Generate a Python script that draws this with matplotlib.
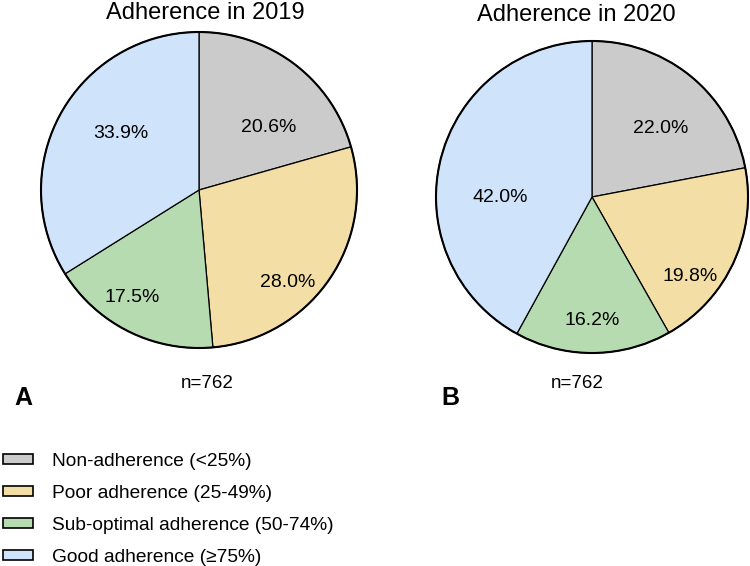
import numpy as np
import matplotlib
matplotlib.use("Agg")
import matplotlib.pyplot as plt
from matplotlib.patches import Patch

plt.rcParams['font.family'] = ['Liberation Sans', 'DejaVu Sans']

# data
categories = ["Non-adherence (<25%)", "Poor adherence (25-49%)",
              "Sub-optimal adherence (50-74%)", "Good adherence (\u226575%)"]
share_2019 = [20.6, 28.0, 17.5, 33.9]
share_2020 = [22.0, 19.8, 16.2, 42.0]
n_2019 = 762
n_2020 = 762

colors = ["#cbcbcb", "#f3dfa6", "#b7dbb1", "#cfe3fb"]

# label placement (fraction of radius, angle in degrees) per wedge
pos_2019 = [(0.59, 42), (0.81, -46), (0.80, -122), (0.61, 144)]
pos_2020 = [(0.62, 45), (0.81, -39), (0.79, -90), (0.59, 180)]

fig = plt.figure(figsize=(7.5, 5.66), dpi=100)


def draw_pie(rect, vals, pos, title, n, letter, title_xy, n_xy, letter_xy):
    ax = fig.add_axes(rect)
    wedges, _ = ax.pie(vals, colors=colors, startangle=90, counterclock=False,
                       wedgeprops=dict(edgecolor="black", linewidth=0.9))
    for w in wedges:
        w.set_clip_on(False)
    # outer ring a bit heavier
    circ = plt.Circle((0, 0), 1, fill=False, edgecolor="black", lw=1.5, clip_on=False)
    ax.add_patch(circ)
    for v, (r, a) in zip(vals, pos):
        ax.text(r * np.cos(np.radians(a)), r * np.sin(np.radians(a)), f"{v:.1f}%",
                ha="center", va="center", fontsize=14)
    ax.set_xlim(-1, 1)
    ax.set_ylim(-1, 1)
    ax.set_aspect("equal")
    ax.axis("off")
    fig.text(title_xy[0], title_xy[1], title, ha="center", va="center", fontsize=17)
    fig.text(n_xy[0], n_xy[1], f"n={n}", ha="center", va="center", fontsize=13.5)
    fig.text(letter_xy[0], letter_xy[1], letter, ha="center", va="center",
             fontsize=18, fontweight="bold")


W, H = 750, 566
draw_pie([41 / W, (H - 348) / H, 316 / W, 316 / H], share_2019, pos_2019,
         "Adherence in 2019", n_2019, "A",
         (205 / W, 1 - 13 / H), (207 / W, 1 - 384 / H), (23 / W, 1 - 398 / H))
draw_pie([436 / W, (H - 353) / H, 312 / W, 312 / H], share_2020, pos_2020,
         "Adherence in 2020", n_2020, "B",
         (576 / W, 1 - 15 / H), (577 / W, 1 - 384 / H), (450 / W, 1 - 398 / H))

handles = [Patch(facecolor=c, edgecolor="black", linewidth=1.2) for c in colors]
fig.legend(handles, categories, loc="upper left", bbox_to_anchor=(3 / W, 1 - 453 / H),
           frameon=False, fontsize=13.8, handlelength=1.56, handleheight=0.47,
           handletextpad=1.0, labelspacing=0.78, borderaxespad=0, borderpad=0)

fig.savefig("out.png", dpi=100)
